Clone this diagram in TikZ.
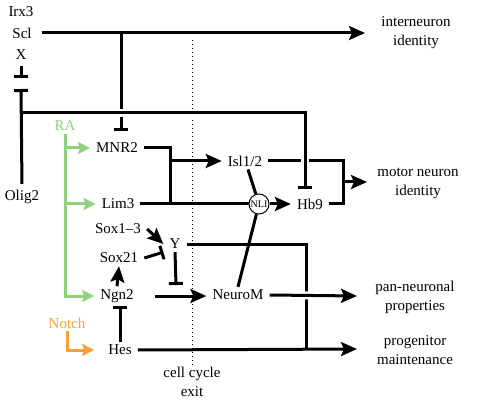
\documentclass[tikz,border=0pt]{standalone}
\usepackage{fontspec}
\setmainfont{Liberation Serif}
\usetikzlibrary{arrows.meta}
\definecolor{ragreen}{RGB}{143,209,127}
\definecolor{notchorange}{RGB}{247,160,53}

\begin{document}
\begin{tikzpicture}[
        x=1pt,y=-1pt,
        >={Stealth[length=16pt,width=14pt,inset=3pt]},
        gene/.style={font=\fontsize{15}{19}\selectfont, inner xsep=6pt, inner ysep=3pt},
        fate/.style={gene, align=center},
        link/.style={line width=3pt},
        blocks/.style={link, -{Bar[width=14pt]}},
        signal/.style={link, -{Stealth[length=12pt,width=12pt,inset=2pt]}},
        over/.style={preaction={draw,white,line width=8pt,arrows=-}}
    ]
    \useasboundingbox (0,0) rectangle (477,401);

    %genes
    \node[gene] (irx3) at (21,12) {Irx3};
    \node[gene] (scl) at (22,33) {Scl};
    \node[gene] (x) at (21,55) {X};
    \node[gene] (olig2) at (22,197) {Olig2};
    \node[gene,text=ragreen] (ra) at (65,126) {RA};
    \node[gene] (mnr2) at (117,148) {MNR2};
    \node[gene] (lim3) at (118,204) {Lim3};
    \node[gene] (sox13) at (118,229) {Sox1--3};
    \node[gene] (y) at (175,244) {Y};
    \node[gene] (sox21) at (119,258) {Sox21};
    \node[gene] (ngn2) at (117,296) {Ngn2};
    \node[gene,text=notchorange] (notch) at (67,323) {Notch};
    \node[gene] (hes) at (120,350) {Hes};
    \node[gene] (isl) at (245,161) {Isl1/2};
    \node[gene] (hb9) at (310,204) {Hb9};
    \node[gene] (neurom) at (238,295) {NeuroM};
    \node[circle,draw,line width=1pt,minimum size=20pt,inner sep=0pt,
          font=\fontsize{10}{10}\selectfont] (nli) at (259,204) {NLI};

    %outcomes
    \node[fate] (inter) at (416,33) {interneuron\\identity};
    \node[fate] (motor) at (418,183) {motor neuron\\identity};
    \node[fate] (pan) at (415,297) {pan-neuronal\\properties};
    \node[fate] (prog) at (415,350) {progenitor\\maintenance};
    \node[fate] (exit) at (192,382) {cell cycle\\exit};

    %junctions and free ends
    \coordinate (sclsplit) at (121,33);
    \coordinate (interin) at (365,33);
    \coordinate (xbar) at (21,78);
    \coordinate (oligbar) at (21,89);
    \coordinate (oligsplit) at (21,113);
    \coordinate (hb9top) at (305,113);
    \coordinate (mnrjoin) at (170,148);
    \coordinate (islfork) at (170,161);
    \coordinate (mnjoin) at (343,182);
    \coordinate (motorin) at (367,182);
    \coordinate (ycorner) at (306,245);
    \coordinate (ybar) at (176,285);
    \coordinate (progjoin) at (306,349);
    \coordinate (panin) at (357,296);
    \coordinate (progin) at (357,349);

    %cell cycle exit
    \draw[line width=1pt,dash pattern=on 1pt off 3pt] (192,40) -- (exit.north);

    %Scl and X
    \draw[link,->,shorten <=4pt] (scl.east) -- (interin);
    \draw[blocks,shorten >=9pt] (sclsplit) -- (sclsplit |- mnr2.north);
    \draw[blocks,shorten <=3pt] (x.south) -- (xbar);

    %motor neuron branch
    \draw[link] (mnr2.east) -- (mnrjoin) -- (mnrjoin |- lim3.east);
    \draw[link,->] (islfork) -- (isl.west);
    \draw[link] (lim3.east) -- (lim3.east -| nli.west);
    \draw[link,->] (nli.east) -- (nli.east -| hb9.west);
    \draw[link] (isl.east) -| (mnjoin) |- (hb9.east);
    \draw[link,->] (mnjoin) -- (motorin);
    \draw[link] ([xshift=3pt]isl.south) -- (nli);
    \draw[link] (nli) -- (neurom.north);

    %Olig2
    \draw[link,over,-{Bar[width=14pt]},shorten >=7pt]
        (oligsplit) -- (hb9top) -- (hb9top |- hb9.north);
    \draw[blocks,shorten <=3pt] (olig2.north) -- (oligbar);

    %RA and Notch
    \draw[signal,ragreen] (ra.south) |- (ngn2.west);
    \draw[signal,ragreen] (ra.south |- mnr2) -- (mnr2.west);
    \draw[signal,ragreen] (ra.south |- lim3) -- (lim3.west);
    \draw[signal,notchorange,shorten >=8pt] (notch.south) |- (hes.west);

    %neurogenesis
    \draw[blocks] (hes.north) -- (hes.north |- ngn2.south);
    \draw[link,->] (ngn2.north) -- (sox21.south);
    \draw[link,->] (sox13.east) -- (y.west);
    \draw[blocks] (sox21.east) -- (y.south west);
    \draw[blocks] (y.south) -- (ybar);
    \draw[link,->,shorten <=15pt] (ngn2.east) -- (ngn2.east -| neurom.west);
    \draw[link] (y.east) -- (y.east -| ycorner) -- (progjoin);
    \draw[link,->] (hes.east) -- (progin);
    \draw[link,->,over] (neurom.east) -- (panin);
\end{tikzpicture}
\end{document}
